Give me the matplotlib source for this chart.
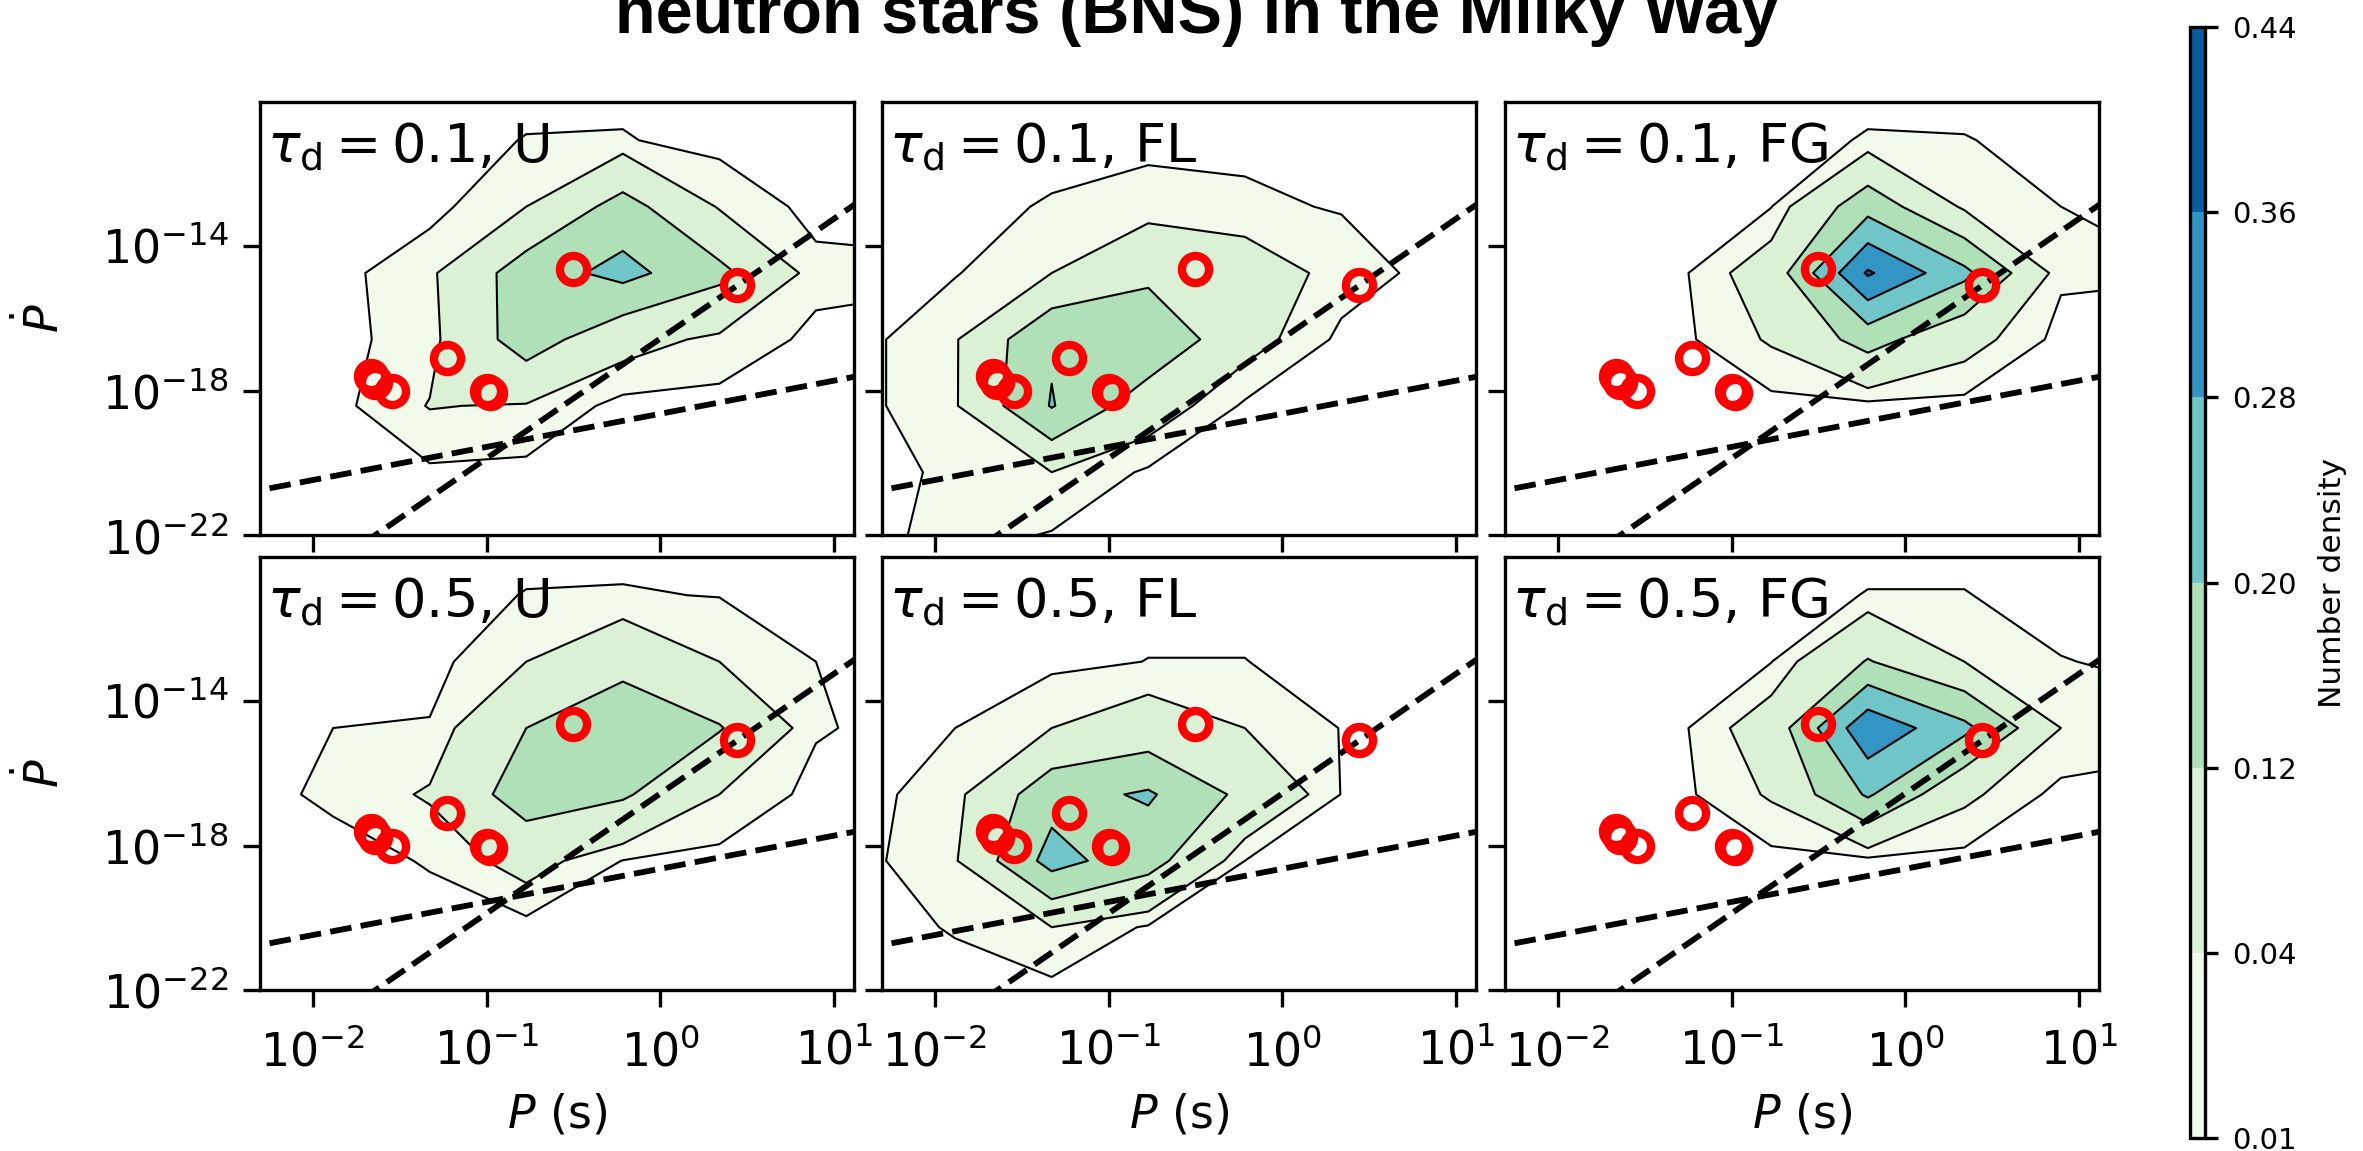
import numpy as np
import matplotlib.pyplot as plt

W, H, DPI = 2363, 1151, 300

# grid nodes of the density maps, log10 P [s] and log10 Pdot
logp_nodes = [-2.44, -1.884, -1.328, -0.772, -0.216, 0.34, 0.896, 1.452]
logpdot_nodes = [-22.1, -20.26, -18.42, -16.58, -14.74, -12.9, -11.06, -9.22]

levels = [0.01, 0.04, 0.12, 0.20, 0.28, 0.36, 0.44]

# number density on the grid, rows = Pdot nodes (bottom to top), cols = P nodes
dens_01_U = [
    [0, 0, 0, 0, 0, 0, 0, 0],
    [0, 0, 0.005, 0.002, 0, 0, 0, 0],
    [0, 0, 0.042, 0.036, 0, 0, 0, 0],
    [0, 0, 0.025, 0.16, 0.06, 0.03, 0.003, 0],
    [0, 0, 0.03, 0.16, 0.225, 0.14, 0.019, 0.015],
    [0, 0, 0, 0.04, 0.15, 0.035, 0, 0],
    [0, 0, 0, 0.011, 0.012, 0, 0, 0],
    [0, 0, 0, 0, 0, 0, 0, 0],
]
dens_01_FL = [
    [0, 0.02, 0.006, 0, 0, 0, 0, 0],
    [0, 0.015, 0.04, 0.005, 0, 0, 0, 0],
    [0, 0.035, 0.205, 0.07, 0.005, 0, 0, 0],
    [0, 0.035, 0.19, 0.19, 0.06, 0.003, 0, 0],
    [0, 0.008, 0.04, 0.1, 0.07, 0.025, 0, 0],
    [0, 0.003, 0.012, 0.02, 0.015, 0.008, 0, 0],
    [0, 0, 0.002, 0.004, 0.004, 0.002, 0, 0],
    [0, 0, 0, 0, 0, 0, 0, 0],
]
dens_01_FG = [
    [0, 0, 0, 0, 0, 0, 0, 0],
    [0, 0, 0, 0, 0, 0, 0, 0],
    [0, 0, 0, 0, 0, 0, 0, 0],
    [0, 0, 0, 0.045, 0.15, 0.06, 0, 0],
    [0, 0, 0, 0.07, 0.37, 0.22, 0.015, 0.012],
    [0, 0, 0, 0.009, 0.17, 0.03, 0.01, 0.003],
    [0, 0, 0, 0, 0.012, 0.011, 0.003, 0],
    [0, 0, 0, 0, 0, 0, 0, 0],
]
dens_05_U = [
    [0, 0, 0, 0, 0, 0, 0, 0],
    [0, 0, 0, 0, 0, 0, 0, 0],
    [0, 0, 0.012, 0.06, 0.009, 0, 0, 0],
    [0, 0.015, 0.045, 0.16, 0.13, 0.04, 0, 0],
    [0, 0.01, 0.012, 0.12, 0.19, 0.125, 0.013, 0],
    [0, 0, 0, 0.04, 0.09, 0.04, 0.01, 0],
    [0, 0, 0, 0.011, 0.012, 0.009, 0, 0],
    [0, 0, 0, 0, 0, 0, 0, 0],
]
dens_05_FL = [
    [0, 0, 0, 0, 0, 0, 0, 0],
    [0, 0.012, 0.04, 0.006, 0, 0, 0, 0],
    [0, 0.035, 0.23, 0.15, 0.01, 0.002, 0, 0],
    [0, 0.025, 0.17, 0.21, 0.1, 0.009, 0, 0],
    [0, 0.01, 0.04, 0.07, 0.04, 0.009, 0, 0],
    [0, 0, 0.003, 0.0105, 0.0105, 0, 0, 0],
    [0, 0, 0, 0.002, 0.002, 0, 0, 0],
    [0, 0, 0, 0, 0, 0, 0, 0],
]
dens_05_FG = [
    [0, 0, 0, 0, 0, 0, 0, 0],
    [0, 0, 0, 0, 0, 0, 0, 0],
    [0, 0, 0, 0, 0, 0, 0, 0],
    [0, 0, 0, 0.045, 0.21, 0.05, 0, 0],
    [0, 0, 0, 0.07, 0.34, 0.22, 0.04, 0.02],
    [0, 0, 0, 0.009, 0.125, 0.04, 0.011, 0.005],
    [0, 0, 0, 0, 0.011, 0.011, 0, 0],
    [0, 0, 0, 0, 0, 0, 0, 0],
]

panels = [[dens_01_U, dens_01_FL, dens_01_FG],
          [dens_05_U, dens_05_FL, dens_05_FG]]
panel_labels = [[r'$\tau_{\rm d} = 0.1$, U', r'$\tau_{\rm d} = 0.1$, FL', r'$\tau_{\rm d} = 0.1$, FG'],
                [r'$\tau_{\rm d} = 0.5$, U', r'$\tau_{\rm d} = 0.5$, FL', r'$\tau_{\rm d} = 0.5$, FG']]

# observed BNS pulsars
psr_P = [0.313, 2.75, 0.059, 0.0215, 0.0227, 0.0286, 0.100, 0.104]
psr_Pdot = [2.4e-15, 8.7e-16, 8.1e-18, 2.5e-18, 1.76e-18, 9.8e-19, 9.5e-19, 8.6e-19]

# dashed lines: log Pdot = a + b log P
line_a = [-18.64, -16.555]
line_b = [0.918, 3.32]

xticks = [-2, -1, 0, 1]
yticks = [-22, -18, -14]

# axes boxes in pixels
lefts = [260, 882, 1505]
tops = [102, 557]
aw, ah = 594, 433

fig = plt.figure(figsize=(W / DPI, H / DPI), dpi=DPI)

line_x = np.array([-2.6, 1.6])
cs = None
for r in range(2):
    for c in range(3):
        ax = fig.add_axes([lefts[c] / W, 1 - (tops[r] + ah) / H, aw / W, ah / H])
        z = np.array(panels[r][c])
        cf = ax.contourf(logp_nodes, logpdot_nodes, z, levels=levels, cmap='GnBu')
        ax.contour(logp_nodes, logpdot_nodes, z, levels=levels, colors='k', linewidths=0.5)
        if cs is None:
            cs = cf
        for a, b in zip(line_a, line_b):
            ax.plot(line_x, a + b * line_x, 'k--', lw=1.4)
        ax.plot(np.log10(psr_P), np.log10(psr_Pdot), 'o', mfc='none', mec='red',
                ms=6.5, mew=2, ls='none')
        ax.text(0.012, 0.955, panel_labels[r][c], transform=ax.transAxes,
                fontsize=13, va='top', ha='left')
        ax.set_xlim(-2.305, 1.115)
        ax.set_ylim(-22, -10)
        ax.set_xticks(xticks)
        ax.set_yticks(yticks)
        ax.tick_params(length=4, width=0.8, labelsize=11)
        if r == 1:
            ax.set_xticklabels(['$10^{%d}$' % t for t in xticks])
            ax.tick_params(axis='x', pad=5.5)
            ax.set_xlabel('$P$ (s)', fontsize=11, labelpad=4)
        else:
            ax.set_xticklabels([])
        if c == 0:
            ax.set_yticklabels(['$10^{%d}$' % t for t in yticks])
            ax.set_ylabel(r'$\dot{P}$', fontsize=11, labelpad=8)
        else:
            ax.set_yticklabels([])

cax = fig.add_axes([2190 / W, 13 / H, 15 / W, 1111 / H])
cb = fig.colorbar(cs, cax=cax)
cb.set_ticks(levels)
cb.set_ticklabels(['%.2f' % v for v in levels])
cb.ax.tick_params(labelsize=7, length=3, width=0.8)
cb.set_label('Number density', fontsize=7.5, labelpad=5)

fig.text(1197 / W, 1 - 33 / H, 'neutron stars (BNS) in the Milky Way', ha='center',
         va='baseline', fontsize=16, fontweight='bold', family='Liberation Sans')

fig.savefig('out.png', dpi=DPI)
